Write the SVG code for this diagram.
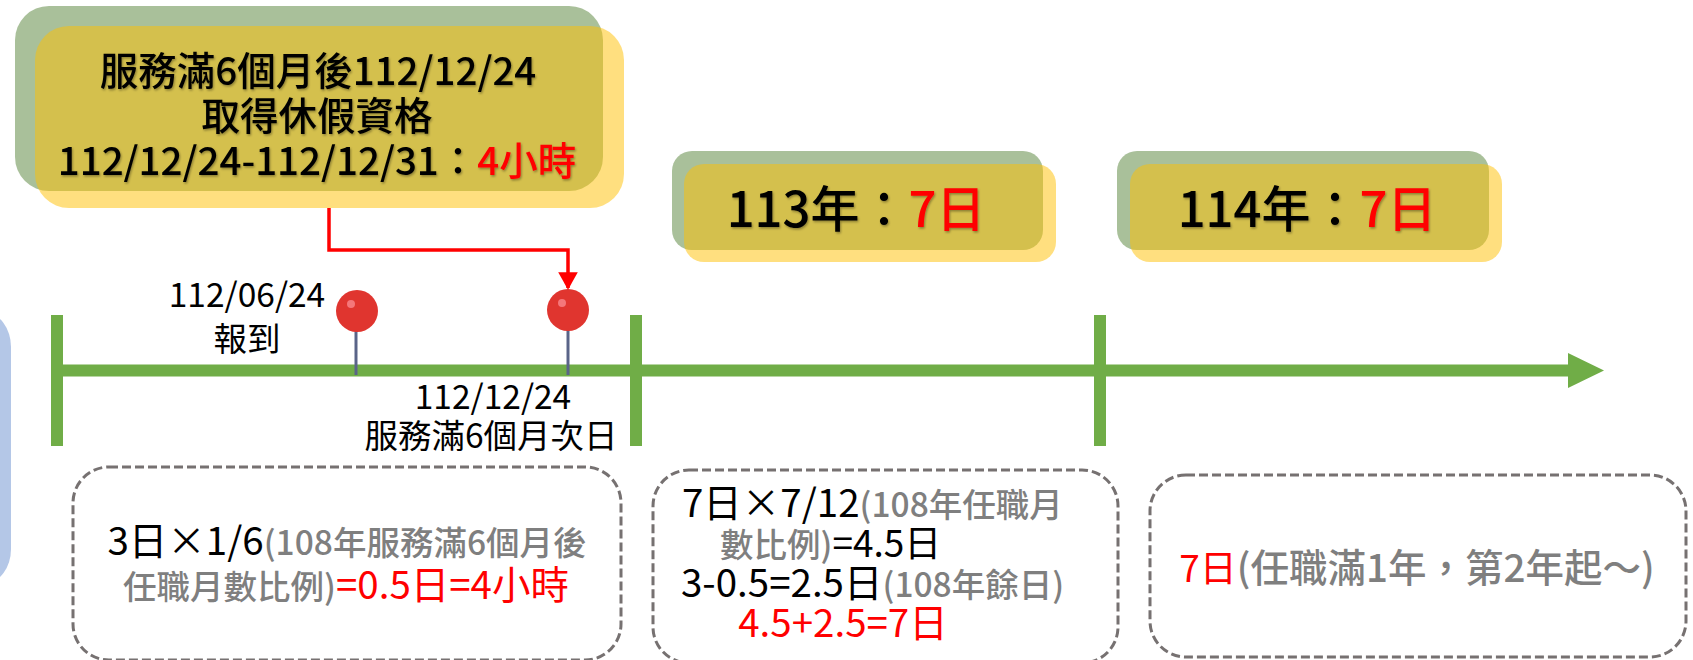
<svg xmlns="http://www.w3.org/2000/svg" width="1693" height="660" viewBox="0 0 1693 660">
<style>
text{font-family:"Noto Sans CJK TC","Noto Sans CJK SC",sans-serif;fill:#000;text-anchor:middle}
.r{fill:#f00}.g{fill:#7f7f7f}
.sg{fill:#548235;fill-opacity:.5}.sy{fill:#ffc000;fill-opacity:.5}
.t{fill:#70ad47}
.d{fill:none;stroke:#767171;stroke-width:3;stroke-dasharray:9 4}
.pin{fill:#e0352f}.hl{fill:#f4777a}.st{stroke:#5a6488;stroke-width:3}
.h{font-size:38.5px;font-weight:500;filter:url(#s)}.m{font-size:49px;font-weight:500;filter:url(#s)}
.l{font-size:33.5px}.b{font-size:38.5px}.gs{font-size:33.5px;fill:#7f7f7f;font-weight:500}
.s{text-anchor:start}
</style>
<defs>
<marker id="a" markerWidth="6" markerHeight="6" refX="4.5" refY="3" orient="auto"><path d="M0 0.2L5 3L0 5.8Z" fill="#f00"/></marker>
<filter id="s" x="-5%" y="-10%" width="110%" height="125%"><feDropShadow dx="1" dy="1.5" stdDeviation="1" flood-color="#000" flood-opacity=".35"/></filter>
</defs>
<g id="side"><rect x="-40" y="313" width="51" height="270" rx="34" fill="#b4c7e7"/></g>
<g id="axis">
<rect class="t" x="51" y="364.500" width="1517" height="12"/>
<path class="t" d="M1568 353L1604 370.500L1568 388Z"/>
<rect class="t" x="51" y="315" width="12" height="131"/>
<rect class="t" x="630" y="315" width="12" height="131"/>
<rect class="t" x="1094" y="315" width="12" height="131"/>
</g>
<g id="n1">
<rect class="sg" x="15" y="6" width="588" height="185" rx="34"/>
<rect class="sy" x="35" y="26" width="589" height="182" rx="34"/>
<text class="h" x="318" y="85">服務滿6個月後112/12/24</text>
<text class="h" x="317" y="130">取得休假資格</text>
<text class="h" x="317" y="175">112/12/24-112/12/31：<tspan class="r">4小時</tspan></text>
</g>
<g id="n2">
<rect class="sg" x="672" y="151" width="371" height="99" rx="20"/>
<rect class="sy" x="684" y="164" width="372" height="98" rx="20"/>
<text class="m" x="856" y="227">113年：<tspan class="r">7日</tspan></text>
</g>
<g id="n3">
<rect class="sg" x="1117" y="151" width="372" height="99" rx="20"/>
<rect class="sy" x="1130" y="164" width="372" height="98" rx="20"/>
<text class="m" x="1307" y="227">114年：<tspan class="r">7日</tspan></text>
</g>
<g id="pin1"><line class="st" x1="356" y1="325" x2="356" y2="375"/><circle class="pin" cx="357" cy="311" r="21"/><circle class="hl" cx="351" cy="304" r="4"/></g>
<g id="pin2"><line class="st" x1="568" y1="325" x2="568" y2="375"/><circle class="pin" cx="568" cy="310" r="21"/><circle class="hl" cx="562" cy="303" r="4"/></g>
<g id="connectors"><path d="M329 208V250H568V288" fill="none" stroke="#f00" stroke-width="3.5" marker-end="url(#a)"/></g>
<g id="lb1"><text class="l" x="247" y="307">112/06/24</text><text class="l" x="247" y="351">報到</text></g>
<g id="lb2"><text class="l" x="493" y="409">112/12/24</text><text class="l" x="491" y="448">服務滿6個月次日</text></g>
<g id="b1"><rect class="d" x="73" y="467" width="548" height="193" rx="36"/>
<text class="b" x="347" y="555">3日×1/6<tspan class="gs">(108年服務滿6個月後</tspan></text>
<text class="b" x="346" y="599"><tspan class="gs">任職月數比例)</tspan><tspan class="r">=0.5日=4小時</tspan></text></g>
<g id="b2"><rect class="d" x="653" y="470" width="465" height="193" rx="36"/>
<text class="b s" x="682" y="517">7日×7/12<tspan class="gs">(108年任職月</tspan></text>
<text class="b s" x="720" y="557"><tspan class="gs">數比例)</tspan><tspan font-size="37">=4.5日</tspan></text>
<text class="b s" x="681" y="597">3-0.5=2.5日<tspan class="gs">(108年餘日)</tspan></text>
<text class="b r" x="843" y="637">4.5+2.5=7日</text></g>
<g id="b3"><rect class="d" x="1150" y="475" width="536" height="182" rx="36"/>
<text class="b" x="1417" y="582"><tspan class="r" font-size="37">7日</tspan><tspan class="g" font-size="38.5" font-weight="500">(任職滿1年，第2年起～)</tspan></text></g>
</svg>
